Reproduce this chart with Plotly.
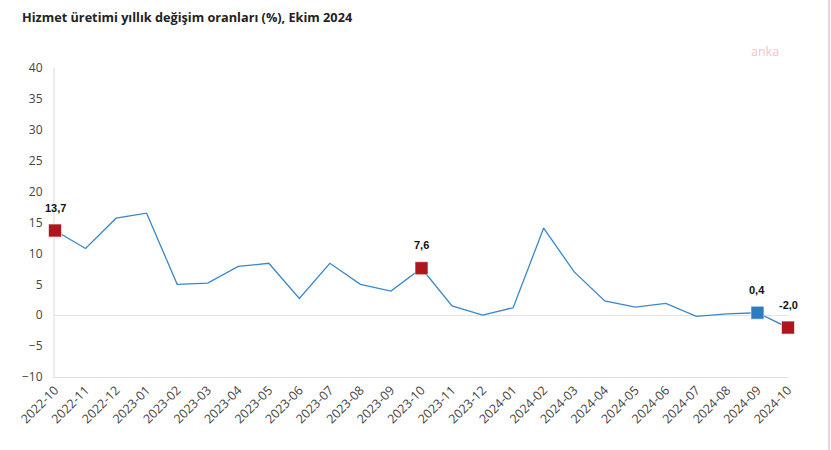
import plotly.graph_objects as go

months = ["2022-10","2022-11","2022-12","2023-01","2023-02","2023-03","2023-04","2023-05",
          "2023-06","2023-07","2023-08","2023-09","2023-10","2023-11","2023-12","2024-01",
          "2024-02","2024-03","2024-04","2024-05","2024-06","2024-07","2024-08","2024-09","2024-10"]
values = [13.7,10.8,15.7,16.5,5.0,5.2,7.9,8.4,2.7,8.4,5.0,3.9,7.6,1.5,0.0,1.2,
          14.1,7.0,2.3,1.3,1.9,-0.2,0.2,0.4,-2.0]
highlight_red = ["2022-10","2023-10","2024-10"]
highlight_blue = ["2024-09"]
labels = {"2022-10":"13,7","2023-10":"7,6","2024-09":"0,4","2024-10":"-2,0"}
y_ticks = [-10,-5,0,5,10,15,20,25,30,35,40]

idx = list(range(len(months)))
fig = go.Figure()
fig.add_trace(go.Scatter(x=idx, y=values, mode="lines", cliponaxis=False,
                         line=dict(color="#3A87C8", width=1.3), hoverinfo="skip"))
for names, col in [(highlight_red, "#AF151D"), (highlight_blue, "#2F7BBE")]:
    xs = [months.index(m) for m in names]
    ys = [values[i] for i in xs]
    fig.add_trace(go.Scatter(x=xs, y=ys, mode="markers", cliponaxis=False,
                             marker=dict(symbol="square", size=13, color=col,
                                         line=dict(color="rgba(255,255,255,0.6)", width=1))))
for m, t in labels.items():
    i = months.index(m)
    fig.add_annotation(x=i, y=values[i], text="<b>%s</b>" % t, showarrow=False, yshift=23,
                       font=dict(family="Liberation Sans, Arial", size=11, color="#111"),
                       xanchor="center")

fig.add_annotation(xref="paper", yref="paper", x=(767-55)/735, y=(377-52)/309,
                   text="anka", showarrow=False, xanchor="center", yanchor="middle",
                   font=dict(family="Open Sans", size=12.5, color="#F6C3CC"))

fig.add_shape(type="line", xref="paper", yref="paper", x0=(829-55)/733, x1=(829-55)/733,
              y0=-1, y1=2, line=dict(color="#DADAE6", width=2))

fig.update_layout(
    width=831, height=450, showlegend=False,
    paper_bgcolor="white", plot_bgcolor="white",
    margin=dict(l=55, r=43, t=68, b=73),
    title=dict(text="<b>Hizmet üretimi yıllık değişim oranları (%), Ekim 2024</b>",
               x=22/831, xanchor="left", y=1-18/450, yanchor="middle",
               font=dict(family="Open Sans", size=12.7, color="#222")),
    xaxis=dict(range=[0, 24], tickmode="array", tickvals=idx, ticktext=months,
               tickangle=-45, showgrid=False, zeroline=False, layer="below traces",
               showline=True, linecolor="#E2E2E2", linewidth=1,
               tickfont=dict(family="Open Sans", size=12.5, color="#444"),
               ticks="", ticklen=0),
    yaxis=dict(range=[-10, 40], tickvals=y_ticks, showgrid=False, layer="below traces",
               zeroline=True, zerolinecolor="#E2E2E2", zerolinewidth=1,
               showline=True, linecolor="#EDEDED", linewidth=2,
               tickfont=dict(family="Open Sans", size=12, color="#444"),
               ticks="", ticklabelstandoff=8),
)
fig.write_html("out.html")
